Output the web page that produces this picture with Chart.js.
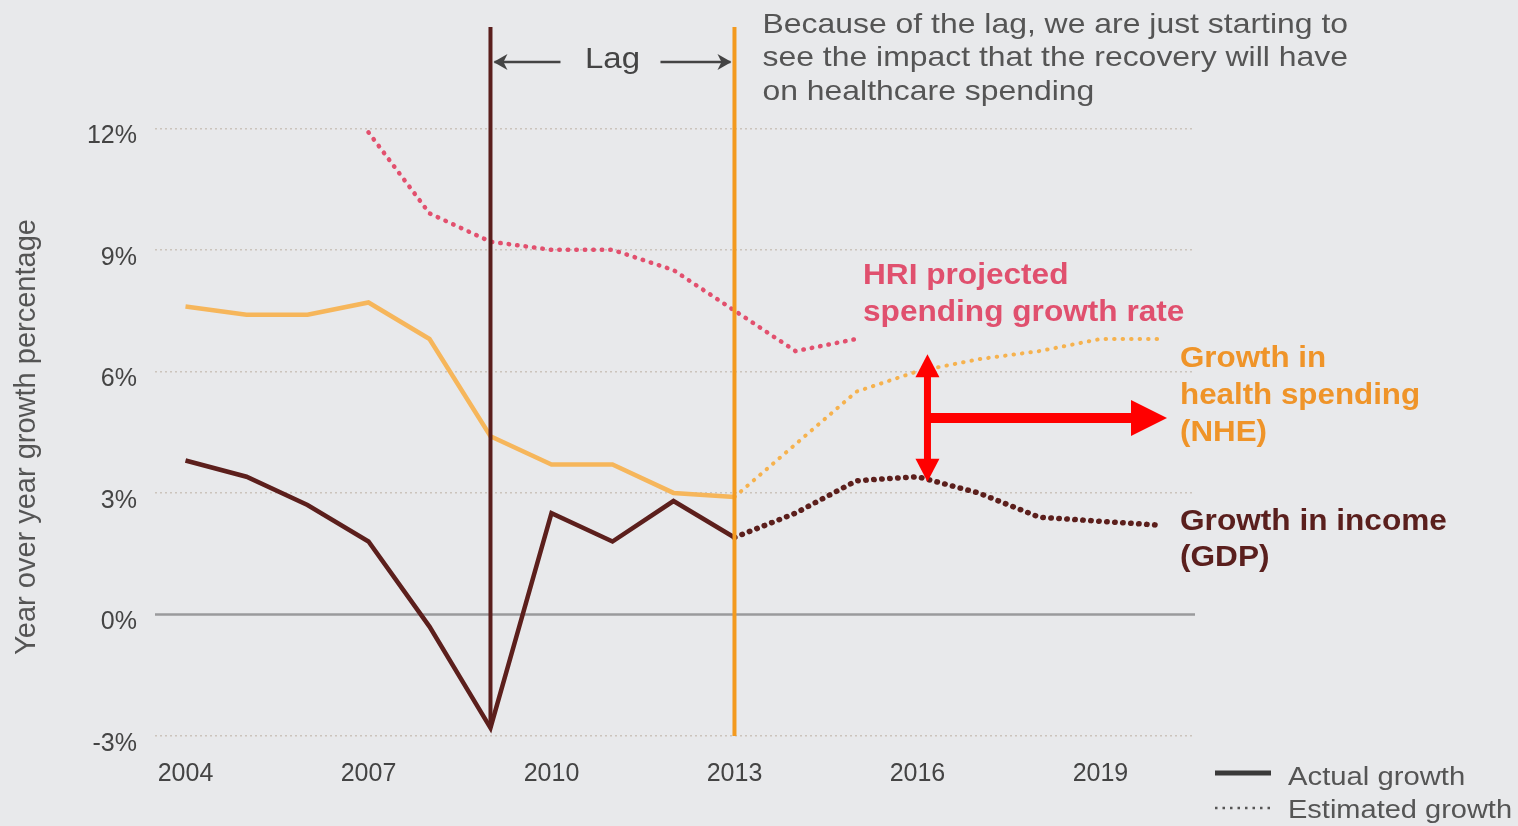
<!DOCTYPE html>
<html>
<head>
<meta charset="utf-8">
<title>Health spending vs GDP growth</title>
<script src="https://cdn.jsdelivr.net/npm/chart.js@4.4.1/dist/chart.umd.min.js"></script>
<style>
    html, body { margin: 0; padding: 0; background: #e8e9eb; }
    #wrap { position: relative; width: 1518px; height: 826px; }
</style>
</head>
<body>
<div id="wrap"><canvas id="growthChart"></canvas></div>
<script>
const actualYears = [2004, 2005, 2006, 2007, 2008, 2009, 2010, 2011, 2012, 2013];
const estimatedYears = [2013, 2014, 2015, 2016, 2017, 2018, 2019, 2020];
const hriYears = [2007, 2008, 2009, 2010, 2011, 2012, 2013, 2014, 2015];

const gdpActual = [3.8, 3.4, 2.7, 1.8, -0.3, -2.8, 2.5, 1.8, 2.8, 1.9];
const gdpEstimated = [1.9, 2.5, 3.3, 3.4, 3.0, 2.4, 2.3, 2.2];
const nheActual = [7.6, 7.4, 7.4, 7.7, 6.8, 4.4, 3.7, 3.7, 3.0, 2.9];
const nheEstimated = [2.9, 4.2, 5.5, 6.0, 6.3, 6.5, 6.8, 6.8];
const hriProjected = [11.9, 9.9, 9.2, 9.0, 9.0, 8.5, 7.5, 6.5, 6.8];

const yearTicks = [2004, 2007, 2010, 2013, 2016, 2019];
const percentTicks = [-3, 0, 3, 6, 9, 12];
const lagStart = 2009;
const lagEnd = 2013;

const FONT = '"Liberation Sans", Arial, sans-serif';

function points(years, values) {
    return years.map((yr, i) => ({x: yr, y: values[i]}));
}

// the source font runs a little wider than Liberation Sans
function wideText(ctx, text, x, y, sx) {
    ctx.save();
    ctx.translate(x, y);
    ctx.scale(sx, 1);
    ctx.fillText(text, 0, 0);
    ctx.restore();
}

const dotted = {borderDash: [0.5, 8], borderCapStyle: 'round', borderWidth: 4.5};

// text, arrows and the legend drawn over the plot
const annotations = {
    id: 'annotations',
    afterDraw(chart) {
        const {ctx, scales: {x, y}} = chart;
        ctx.save();
        ctx.textBaseline = 'middle';

        // y axis title
        ctx.save();
        ctx.translate(27, 437);
        ctx.rotate(-Math.PI / 2);
        ctx.textAlign = 'center';
        ctx.fillStyle = '#555';
        ctx.font = '29px ' + FONT;
        ctx.fillText('Year over year growth percentage', 0, 0);
        ctx.restore();

        // lag arrows
        const x0 = x.getPixelForValue(lagStart);
        const x1 = x.getPixelForValue(lagEnd);
        const mid = (x0 + x1) / 2;
        ctx.strokeStyle = '#444';
        ctx.fillStyle = '#444';
        ctx.lineWidth = 2.5;
        ctx.beginPath();
        ctx.moveTo(x0 + 4, 62); ctx.lineTo(mid - 52, 62);
        ctx.moveTo(mid + 48, 62); ctx.lineTo(x1 - 4, 62);
        ctx.stroke();
        ctx.beginPath();
        ctx.moveTo(x0 + 3, 62); ctx.lineTo(x0 + 17, 54); ctx.lineTo(x0 + 13, 62); ctx.lineTo(x0 + 17, 70);
        ctx.closePath(); ctx.fill();
        ctx.beginPath();
        ctx.moveTo(x1 - 3, 62); ctx.lineTo(x1 - 17, 54); ctx.lineTo(x1 - 13, 62); ctx.lineTo(x1 - 17, 70);
        ctx.closePath(); ctx.fill();
        ctx.textAlign = 'center';
        ctx.font = '30px ' + FONT;
        wideText(ctx, 'Lag', mid, 60, 1.1);

        // explanation
        ctx.textAlign = 'left';
        ctx.fillStyle = '#555';
        ctx.font = '28px ' + FONT;
        wideText(ctx, 'Because of the lag, we are just starting to', x1 + 28, 25, 1.14);
        wideText(ctx, 'see the impact that the recovery will have', x1 + 28, 58, 1.14);
        wideText(ctx, 'on healthcare spending', x1 + 28, 92, 1.14);

        // series labels
        ctx.font = 'bold 29px ' + FONT;
        ctx.fillStyle = '#e0506e';
        wideText(ctx, 'HRI projected', 863, 276, 1.09);
        wideText(ctx, 'spending growth rate', 863, 313, 1.09);
        ctx.fillStyle = '#ef9429';
        wideText(ctx, 'Growth in', 1180, 359, 1.08);
        wideText(ctx, 'health spending', 1180, 396, 1.08);
        wideText(ctx, '(NHE)', 1180, 433, 1.08);
        ctx.fillStyle = '#5a1f1d';
        wideText(ctx, 'Growth in income', 1180, 522, 1.09);
        wideText(ctx, '(GDP)', 1180, 558, 1.09);

        // red gap arrows
        const ax = x.getPixelForValue(2016) + 10;
        const top = y.getPixelForValue(nheEstimated[3]) - 17;
        const bot = y.getPixelForValue(gdpEstimated[3]) + 5;
        const ay = 418;
        ctx.fillStyle = '#ff0000';
        ctx.fillRect(ax - 3.5, top + 20, 7, bot - top - 40);
        ctx.beginPath();
        ctx.moveTo(ax, top); ctx.lineTo(ax + 12, top + 23); ctx.lineTo(ax - 12, top + 23);
        ctx.closePath(); ctx.fill();
        ctx.beginPath();
        ctx.moveTo(ax, bot); ctx.lineTo(ax + 12, bot - 23); ctx.lineTo(ax - 12, bot - 23);
        ctx.closePath(); ctx.fill();
        ctx.fillRect(ax, ay - 5, 1134 - ax, 10);
        ctx.beginPath();
        ctx.moveTo(1167, ay); ctx.lineTo(1131, ay - 18); ctx.lineTo(1131, ay + 18);
        ctx.closePath(); ctx.fill();

        // legend
        ctx.strokeStyle = '#3a3a3a';
        ctx.lineWidth = 5;
        ctx.beginPath(); ctx.moveTo(1215, 773); ctx.lineTo(1271, 773); ctx.stroke();
        ctx.strokeStyle = '#555';
        ctx.lineWidth = 2.5;
        ctx.setLineDash([2.5, 5]);
        ctx.beginPath(); ctx.moveTo(1215, 808); ctx.lineTo(1271, 808); ctx.stroke();
        ctx.setLineDash([]);
        ctx.fillStyle = '#555';
        ctx.font = '25px ' + FONT;
        wideText(ctx, 'Actual growth', 1288, 778, 1.17);
        wideText(ctx, 'Estimated growth', 1288, 811, 1.16);

        ctx.restore();
    }
};

const ctx = document.getElementById('growthChart').getContext('2d');
const growthChart = new Chart(ctx, {
    type: 'line',
    data: {
        datasets: [
            {
                label: 'Lag start',
                data: [{x: lagStart, y: gdpActual[5]}, {x: lagStart, y: 14.5}],
                borderColor: '#5a1e1c',
                borderWidth: 4
            },
            {
                label: 'Lag end',
                data: [{x: lagEnd, y: -3}, {x: lagEnd, y: 14.5}],
                borderColor: '#f39a1f',
                borderWidth: 4
            },
            {
                label: 'GDP actual',
                data: points(actualYears, gdpActual),
                borderColor: '#5c1f1c',
                borderWidth: 4.5
            },
            {
                label: 'GDP estimated',
                data: points(estimatedYears, gdpEstimated),
                borderColor: '#5c1f1c',
                ...dotted,
                borderWidth: 5.5,
                borderDash: [0.5, 7.5]
            },
            {
                label: 'NHE actual',
                data: points(actualYears, nheActual),
                borderColor: '#f6b65b',
                borderWidth: 4.5
            },
            {
                label: 'NHE estimated',
                data: points(estimatedYears, nheEstimated),
                borderColor: '#f6b24e',
                ...dotted,
                borderWidth: 4
            },
            {
                label: 'HRI projected',
                data: points(hriYears, hriProjected),
                borderColor: '#e2506e',
                ...dotted
            },
            {
                label: 'Zero',
                data: [{x: 2003.5, y: 0}, {x: 2020.55, y: 0}],
                borderColor: '#9a9a9c',
                borderWidth: 2.5
            }
        ]
    },
    options: {
        responsive: true,
        maintainAspectRatio: false,
        animation: false,
        elements: {
            point: {radius: 0, hoverRadius: 0},
            line: {tension: 0, fill: false}
        },
        layout: {
            padding: {top: 27, right: 323, left: 0, bottom: 0}
        },
        plugins: {
            legend: {display: false},
            tooltip: {enabled: false}
        },
        scales: {
            x: {
                type: 'linear',
                min: 2003.5,
                max: 2020.55,
                afterBuildTicks: (axis) => { axis.ticks = yearTicks.map(v => ({value: v})); },
                afterFit: (axis) => { axis.height = 90; },
                grid: {display: false, drawTicks: false},
                border: {display: false},
                ticks: {
                    padding: 23,
                    color: '#444',
                    font: {family: FONT, size: 25},
                    maxRotation: 0,
                    callback: (value) => String(value)
                }
            },
            y: {
                min: -3,
                max: 14.5,
                afterBuildTicks: (axis) => { axis.ticks = percentTicks.map(v => ({value: v})); },
                afterFit: (axis) => {
                    axis.width = 155;
                    axis.paddingTop = 0;
                    axis.paddingBottom = 0;
                },
                grid: {
                    drawTicks: false,
                    lineWidth: 1.5,
                    color: (c) => c.tick && c.tick.value === 0 ? 'rgba(0,0,0,0)' : '#cbc4bc'
                },
                border: {display: false, dash: [2, 3]},
                ticks: {
                    padding: 18,
                    labelOffset: 8,
                    color: '#444',
                    font: {family: FONT, size: 25},
                    callback: (value) => value + '%'
                }
            }
        }
    },
    plugins: [annotations]
});
</script>
</body>
</html>
